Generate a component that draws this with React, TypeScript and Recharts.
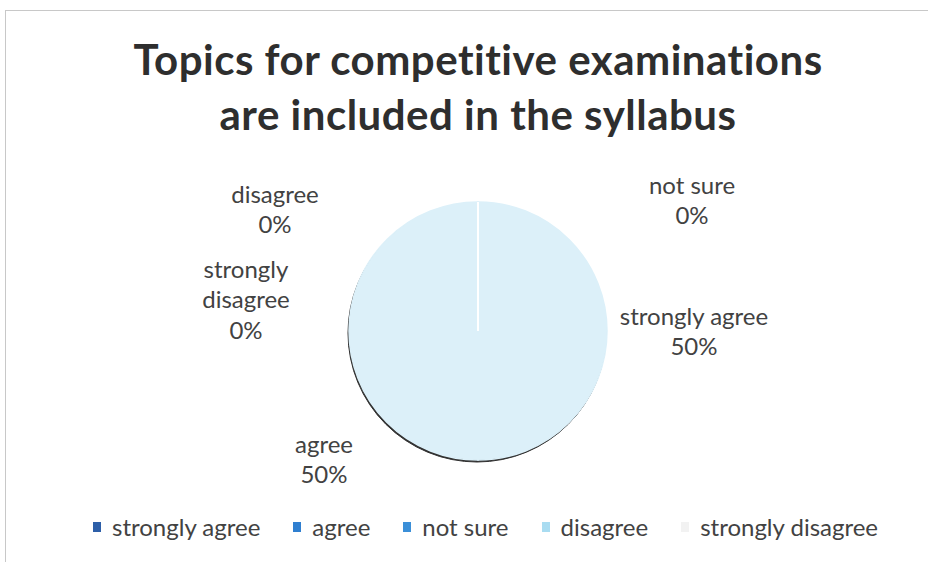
import React from "react";
import { PieChart, Pie, Cell } from "recharts";

const categories = ["strongly agree", "agree", "not sure", "disagree", "strongly disagree"];
const values = [50, 50, 0, 0, 0];
const percentLabels = ["50%", "50%", "0%", "0%", "0%"];
const legendColors = ["#2d5fa8", "#2f7fd0", "#3b8fd8", "#a9dcf1", "#f2f2f2"];
const sliceFill = "#dcf0f9";
const shadowFill = "#303030";

const data = categories.map((name, i) => ({ name, value: values[i] }));

// label placement offsets (relative to the pie centre), style-only
const labelOffsets = [
  { dx: 216, dy: -16, lines: ["strongly agree"] },
  { dx: -154, dy: 112, lines: ["agree"] },
  { dx: 214, dy: -147, lines: ["not sure"] },
  { dx: -203, dy: -138, lines: ["disagree"] },
  { dx: -232, dy: -63, lines: ["strongly", "disagree"] },
];

const FONT = "Lato, 'Open Sans', sans-serif";
const RAD = Math.PI / 180;

const renderLabel = (props: any) => {
  const { cx, cy, index, midAngle, outerRadius } = props;
  const o = labelOffsets[index];
  const lines = [...o.lines, percentLabels[index]];
  const lineH = 30.5;
  let divider = null;
  if (index === 2) {
    const x2 = cx + outerRadius * Math.cos(-midAngle * RAD);
    const y2 = cy + outerRadius * Math.sin(-midAngle * RAD);
    divider = <line x1={cx} y1={cy} x2={x2} y2={y2} stroke="#ffffff" strokeWidth={2} />;
  }
  return (
    <g key={`lbl-${index}`}>
      {divider}
      {lines.map((t, k) => (
        <text
          key={k}
          x={cx + o.dx}
          y={cy + o.dy + k * lineH}
          textAnchor="middle"
          dominantBaseline="central"
          fill="#424242"
          fontSize={24}
          fontFamily={FONT}
        >
          {t}
        </text>
      ))}
    </g>
  );
};

const LegendRow = () => (
  <div
    style={{
      position: "absolute",
      top: 512,
      left: 93,
      display: "flex",
      fontFamily: FONT,
      fontSize: 24,
      lineHeight: "30px",
      color: "#424242",
      whiteSpace: "nowrap",
    }}
  >
    {categories.map((c, i) => (
      <div key={c} style={{ display: "flex", alignItems: "center", marginRight: 33 }}>
        <span
          style={{
            display: "inline-block",
            width: 8,
            height: 10,
            background: legendColors[i],
            marginRight: 11,
          }}
        />
        <span>{c}</span>
      </div>
    ))}
  </div>
);

export default function App() {
  return (
    <div style={{ position: "absolute", left: 0, top: 0, width: 928, height: 562, background: "#fff", overflow: "hidden" }}>
      <div
        style={{
          position: "absolute",
          left: 5,
          top: 10,
          width: 940,
          height: 560,
          borderTop: "1px solid #c8c8c8",
          borderLeft: "1px solid #c8c8c8",
        }}
      />
      <div
        style={{
          position: "absolute",
          top: 32,
          left: 0,
          width: 956,
          textAlign: "center",
          fontFamily: FONT,
          fontWeight: 700,
          fontSize: 42,
          letterSpacing: 0.5,
          lineHeight: "55px",
          color: "#2e2e2e",
        }}
      >
        Topics for competitive examinations
        <br />
        are included in the syllabus
      </div>
      <div style={{ position: "absolute", left: 0, top: 0 }}>
        <PieChart width={928} height={562} margin={{ top: 0, right: 0, bottom: 0, left: 0 }}>
          <Pie
            data={data}
            dataKey="value"
            nameKey="name"
            cx={477}
            cy={333}
            outerRadius={129}
            startAngle={90}
            endAngle={-270}
            isAnimationActive={false}
            labelLine={false}
            legendType="none"
          >
            {data.map((d) => (
              <Cell key={`s-${d.name}`} fill={shadowFill} stroke={shadowFill} strokeWidth={1} />
            ))}
          </Pie>
          <Pie
            data={data}
            dataKey="value"
            nameKey="name"
            cx={478}
            cy={331}
            outerRadius={129}
            startAngle={90}
            endAngle={-270}
            isAnimationActive={false}
            labelLine={false}
            label={renderLabel}
          >
            {data.map((d) => (
              <Cell key={d.name} fill={sliceFill} stroke={sliceFill} strokeWidth={1.5} />
            ))}
          </Pie>
        </PieChart>
      </div>
      <LegendRow />
    </div>
  );
}
